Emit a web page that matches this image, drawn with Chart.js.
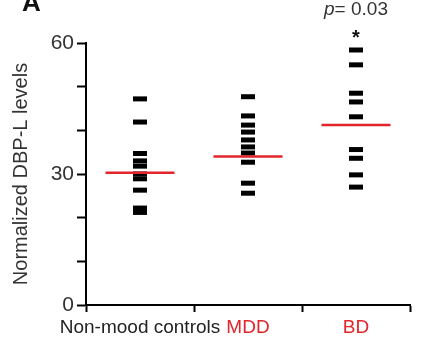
<!DOCTYPE html>
<html>
<head>
<meta charset="utf-8">
<script src="https://cdn.jsdelivr.net/npm/chart.js@4"></script>
<style>
html,body{margin:0;padding:0;background:#fff;}
#wrap{width:424px;height:361px;}
</style>
</head>
<body>
<div id="wrap"><canvas id="c" width="424" height="361"></canvas></div>
<script>
const categories = ['Non-mood controls', 'MDD', 'BD'];
const controls = [47.2, 41.9, 34.7, 33.0, 31.8, 30.0, 28.9, 26.3, 22.2, 21.2];
const mdd = [47.7, 43.3, 41.2, 39.6, 37.8, 36.2, 34.8, 32.7, 27.9, 25.6];
const bd = [58.4, 55.0, 48.5, 46.5, 43.1, 35.6, 33.6, 29.8, 27.0];
const means = [30.3, 34.0, 41.2];
const yTickLabels = [0, 30, 60];
const labelColors = ['#222222', '#e2242b', '#e2242b'];
const pText = '= 0.03';

const groups = [controls, mdd, bd];
const pointData = [];
groups.forEach((g, i) => g.forEach(v => pointData.push({x: categories[i], y: v})));
const meanData = means.map((m, i) => ({x: categories[i], y: m}));

const annot = {
  id: 'annot',
  afterDraw(chart) {
    const ctx = chart.ctx;
    const xs = chart.scales.x;
    ctx.save();
    ctx.fillStyle = '#111';
    ctx.font = 'bold 26px "Liberation Sans", Arial, sans-serif';
    ctx.textBaseline = 'alphabetic';
    ctx.textAlign = 'left';
    ctx.fillText('A', 22, 11);
    const bx = xs.getPixelForValue(2);
    ctx.fillStyle = '#333';
    ctx.font = 'italic 19px "Liberation Sans", Arial, sans-serif';
    const pw = ctx.measureText('p').width;
    ctx.font = '19px "Liberation Sans", Arial, sans-serif';
    const rw = ctx.measureText(pText).width;
    const start = bx - (pw + rw) / 2;
    ctx.font = 'italic 19px "Liberation Sans", Arial, sans-serif';
    ctx.fillText('p', start, 15);
    ctx.font = '19px "Liberation Sans", Arial, sans-serif';
    ctx.fillText(pText, start + pw, 15);
    ctx.fillStyle = '#111';
    ctx.font = 'bold 20px "Liberation Sans", Arial, sans-serif';
    ctx.textAlign = 'center';
    ctx.fillText('*', bx, 44);
    ctx.restore();
  }
};

new Chart(document.getElementById('c'), {
  type: 'line',
  data: {
    labels: categories,
    datasets: [
      {
        label: 'mean',
        data: meanData,
        showLine: false,
        pointStyle: 'line',
        pointRadius: 34.5,
        pointHoverRadius: 34.5,
        pointBorderWidth: 2.5,
        borderColor: '#e2242b',
        backgroundColor: '#e2242b'
      },
      {
        label: 'values',
        data: pointData,
        showLine: false,
        pointStyle: 'line',
        pointRadius: 7,
        pointHoverRadius: 7,
        pointBorderWidth: 5,
        borderColor: '#000',
        backgroundColor: '#000'
      }
    ]
  },
  options: {
    responsive: false,
    animation: false,
    events: [],
    layout: {autoPadding: false, padding: {left: 0, right: 14, top: 43, bottom: 0}},
    plugins: {legend: {display: false}, tooltip: {enabled: false}},
    scales: {
      x: {
        type: 'category',
        offset: true,
        grid: {display: true, offset: true, drawOnChartArea: false, drawTicks: true, tickLength: 7, tickWidth: 2, color: '#000'},
        border: {display: true, color: '#000', width: 2},
        ticks: {
          color: labelColors,
          font: {family: '"Liberation Sans", Arial, sans-serif', size: 19},
          padding: 4,
          maxRotation: 0,
          autoSkip: false
        },
        afterFit(s) { s.height = 56; s.paddingLeft = 0; s.paddingRight = 0; }
      },
      y: {
        min: 0, max: 60,
        grid: {display: true, drawOnChartArea: false, drawTicks: true, tickLength: 9, tickWidth: 2, color: '#000'},
        border: {display: true, color: '#000', width: 2},
        ticks: {
          stepSize: 10,
          color: '#333',
          font: {family: '"Liberation Sans", Arial, sans-serif', size: 21},
          padding: 3,
          callback: v => yTickLabels.includes(v) ? String(v) : ''
        },
        title: {
          display: true,
          text: 'Normalized DBP-L levels',
          color: '#333',
          font: {family: '"Liberation Sans", Arial, sans-serif', size: 20},
          padding: {top: 9, bottom: 0}
        },
        afterFit(s) { s.width = 86; s.paddingTop = 0; s.paddingBottom = 0; }
      }
    }
  },
  plugins: [annot]
});
</script>
</body>
</html>
